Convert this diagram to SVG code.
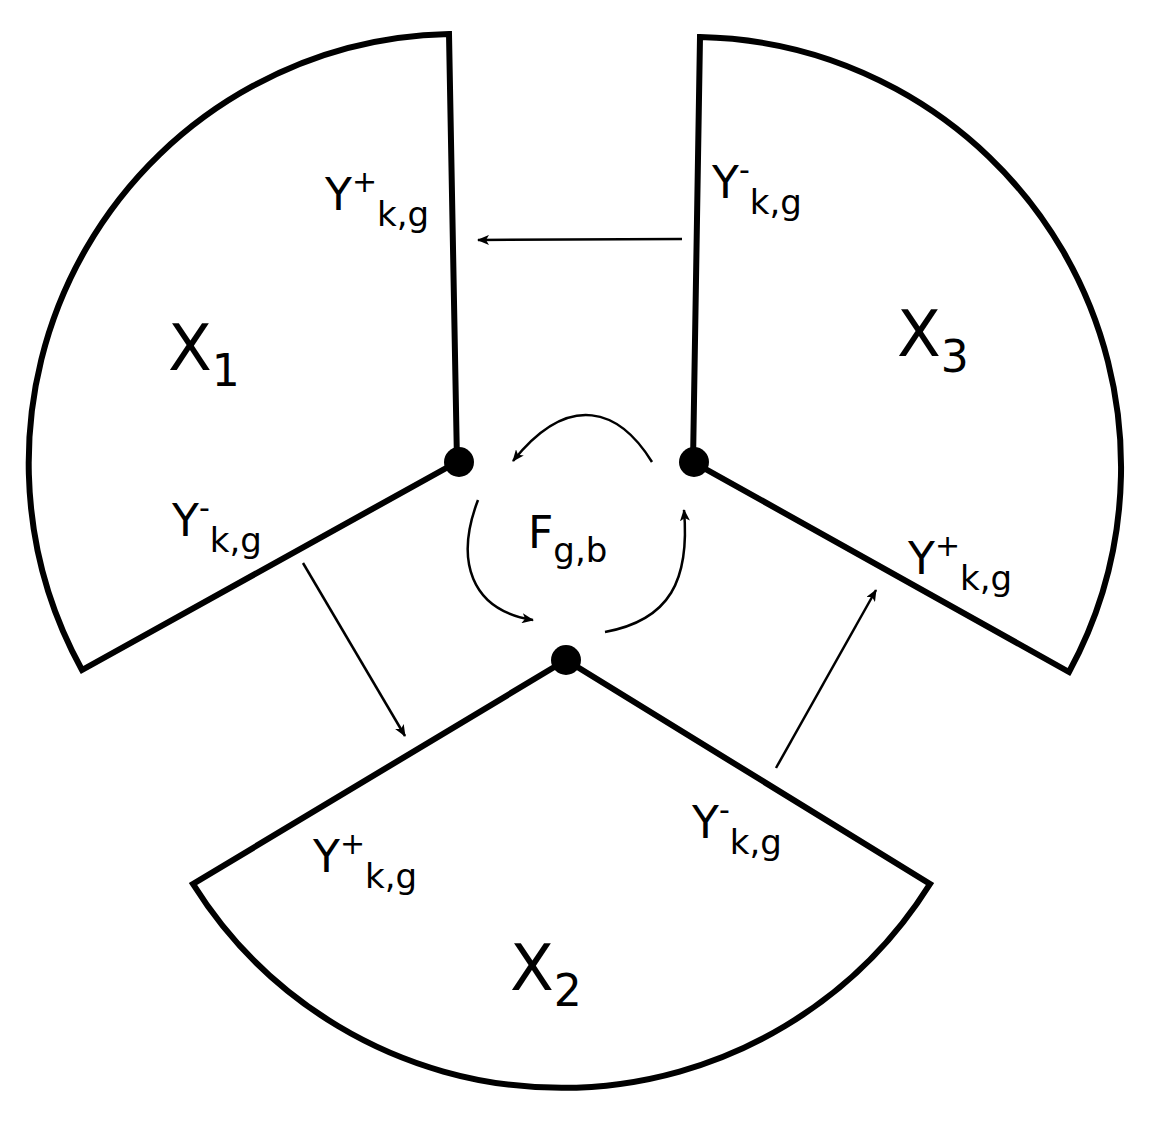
<svg xmlns="http://www.w3.org/2000/svg" width="1156" height="1122" viewBox="0 0 1156 1122">
<style>
.s{fill:none;stroke:#000;stroke-width:6}
.a{fill:none;stroke:#000;stroke-width:2.5;marker-end:url(#m)}
text{font-family:"DejaVu Sans",Verdana,sans-serif;fill:#000}
.big{font-size:64px}.lab{font-size:44px}
</style>
<defs><marker id="m" markerWidth="12" markerHeight="10" refX="11" refY="5" orient="auto" markerUnits="userSpaceOnUse" viewBox="0 0 12 10"><path d="M0,0L12,5L0,10L3,5Z" fill="#000"/></marker></defs>
<g id="x1"><path class="s" d="M457,462 L449,34 A429,429 0 0 0 82,670 Z"/>
<text class="big" x="168" y="370">X<tspan font-size="44" dy="16">1</tspan></text>
<text class="lab" x="325" y="210">Y<tspan font-size="30" dy="-18">+</tspan><tspan font-size="34" dy="34">k,g</tspan></text>
<text class="lab" x="172" y="536">Y<tspan font-size="30" dy="-18">-</tspan><tspan font-size="34" dy="34">k,g</tspan></text></g>
<g id="x3"><path class="s" d="M693,462 L700,37 A430,430 0 0 1 1069,672 Z"/>
<text class="big" x="897" y="356">X<tspan font-size="44" dy="16">3</tspan></text>
<text class="lab" x="712" y="198">Y<tspan font-size="30" dy="-18">-</tspan><tspan font-size="34" dy="34">k,g</tspan></text>
<text class="lab" x="908" y="574">Y<tspan font-size="30" dy="-18">+</tspan><tspan font-size="34" dy="34">k,g</tspan></text></g>
<g id="x2"><path class="s" d="M566,660 L193,884 A435,435 0 0 0 930,884 Z"/>
<text class="big" x="510" y="990">X<tspan font-size="44" dy="16">2</tspan></text>
<text class="lab" x="313" y="872">Y<tspan font-size="30" dy="-18">+</tspan><tspan font-size="34" dy="34">k,g</tspan></text>
<text class="lab" x="692" y="838">Y<tspan font-size="30" dy="-18">-</tspan><tspan font-size="34" dy="34">k,g</tspan></text></g>
<g id="f"><text class="lab" x="528" y="548">F<tspan font-size="34" dy="14">g,b</tspan></text></g>
<g id="dots"><circle cx="459" cy="462" r="15"/><circle cx="694" cy="462" r="15"/><circle cx="566" cy="660" r="15"/></g>
<g id="connectors">
<path class="a" d="M682,239 L478,240"/>
<path class="a" d="M303,563 L405,736"/>
<path class="a" d="M776,768 L876,590"/>
<path class="a" d="M652,462 C620,410 570,390 513,461"/>
<path class="a" d="M478,500 C455,560 470,610 533,620"/>
<path class="a" d="M605,632 C670,620 690,580 684,510"/>
</g>
</svg>
